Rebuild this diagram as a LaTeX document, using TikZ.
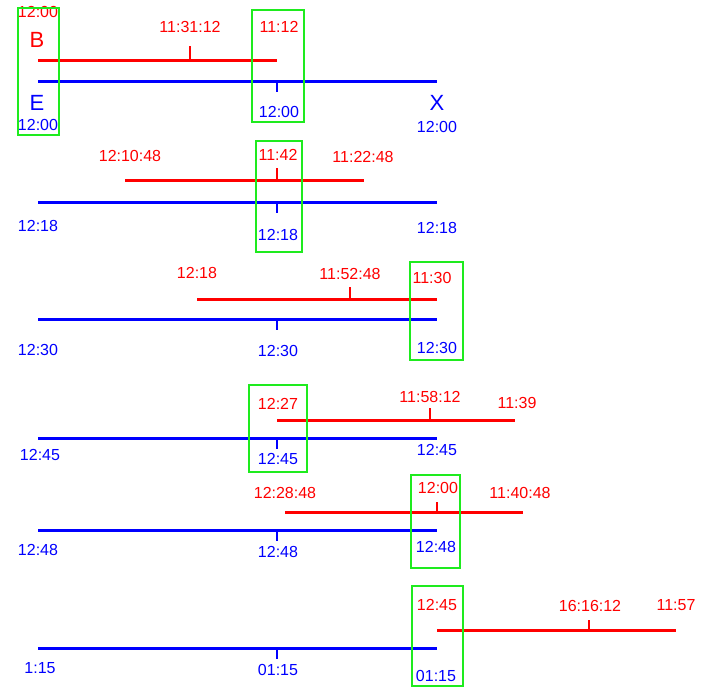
\documentclass[tikz,border=0pt]{standalone}
\usepackage{fontspec}
\setmainfont{Liberation Sans}
\begin{document}
\begin{tikzpicture}[x=1pt,y=-1pt,
  rline/.style={draw=red,line width=3pt},
  bline/.style={draw=blue,line width=3pt},
  rtick/.style={draw=red,line width=2.2pt},
  btick/.style={draw=blue,line width=2.2pt},
  rlab/.style={text=red,inner sep=0pt,font=\fontsize{16}{16}\selectfont},
  blab/.style={text=blue,inner sep=0pt,font=\fontsize{16}{16}\selectfont},
  big/.style={inner sep=0pt,font=\fontsize{22}{22}\selectfont},
  hilite/.style={draw={rgb,255:red,30;green,235;blue,30},line width=2.6pt}]
\useasboundingbox (0,0) rectangle (706,699);
% first pair
\draw[rline] (38,60) -- (277,60);
\draw[rtick] (190,60) -- (190,46);
\draw[bline] (38,81) -- (437,81);
\draw[btick] (277,81) -- (277,92);
\node[rlab] (r1a) at (38,12) {12:00};
\node[rlab,big] (b) at (37,40) {B};
\node[rlab] (r1b) at (190,27) {11:31:12};
\node[rlab] (r1c) at (279,27) {11:12};
\node[blab,big] (e) at (37,103) {E};
\node[blab,big] (x) at (437,103) {X};
\node[blab] (b1a) at (38,125) {12:00};
\node[blab] (b1b) at (279,112) {12:00};
\node[blab] (b1c) at (437,127) {12:00};
\draw[hilite] (18,8) rectangle (59,135);
\draw[hilite] (252,10) rectangle (304,122);
% second pair
\draw[rline] (125,180) -- (364,180);
\draw[rtick] (277,180) -- (277,168);
\draw[bline] (38,202) -- (437,202);
\draw[btick] (277,202) -- (277,213);
\node[rlab] (r2a) at (130,156) {12:10:48};
\node[rlab] (r2b) at (278,155) {11:42};
\node[rlab] (r2c) at (363,157) {11:22:48};
\node[blab] (b2a) at (38,226) {12:18};
\node[blab] (b2b) at (278,235) {12:18};
\node[blab] (b2c) at (437,228) {12:18};
\draw[hilite] (256,141) rectangle (302,252);
% third pair
\draw[rline] (197,299) -- (437,299);
\draw[rtick] (350,299) -- (350,287);
\draw[bline] (38,319) -- (437,319);
\draw[btick] (277,319) -- (277,330);
\node[rlab] (r3a) at (197,273) {12:18};
\node[rlab] (r3b) at (350,274) {11:52:48};
\node[rlab] (r3c) at (432,278) {11:30};
\node[blab] (b3a) at (38,350) {12:30};
\node[blab] (b3b) at (278,351) {12:30};
\node[blab] (b3c) at (437,348) {12:30};
\draw[hilite] (410,262) rectangle (463,360);
% fourth pair
\draw[rline] (277,420) -- (515,420);
\draw[rtick] (430,420) -- (430,408);
\draw[bline] (38,438) -- (437,438);
\draw[btick] (277,438) -- (277,449);
\node[rlab] (r4a) at (278,404) {12:27};
\node[rlab] (r4b) at (430,397) {11:58:12};
\node[rlab] (r4c) at (517,403) {11:39};
\node[blab] (b4a) at (40,455) {12:45};
\node[blab] (b4b) at (278,459) {12:45};
\node[blab] (b4c) at (437,450) {12:45};
\draw[hilite] (249,385) rectangle (307,472);
% fifth pair
\draw[rline] (285,512) -- (523,512);
\draw[rtick] (437,512) -- (437,502);
\draw[bline] (38,530) -- (437,530);
\draw[btick] (277,530) -- (277,541);
\node[rlab] (r5a) at (285,493) {12:28:48};
\node[rlab] (r5b) at (438,488) {12:00};
\node[rlab] (r5c) at (520,493) {11:40:48};
\node[blab] (b5a) at (38,550) {12:48};
\node[blab] (b5b) at (278,552) {12:48};
\node[blab] (b5c) at (436,547) {12:48};
\draw[hilite] (411,475) rectangle (460,568);
% sixth pair
\draw[rline] (437,630) -- (676,630);
\draw[rtick] (589,630) -- (589,620);
\draw[bline] (38,648) -- (437,648);
\draw[btick] (277,648) -- (277,659);
\node[rlab] (r6a) at (437,605) {12:45};
\node[rlab] (r6b) at (590,606) {16:16:12};
\node[rlab] (r6c) at (676,605) {11:57};
\node[blab] (b6a) at (40,668) {1:15};
\node[blab] (b6b) at (278,670) {01:15};
\node[blab] (b6c) at (436,676) {01:15};
\draw[hilite] (412,586) rectangle (463,686);
\end{tikzpicture}
\end{document}
